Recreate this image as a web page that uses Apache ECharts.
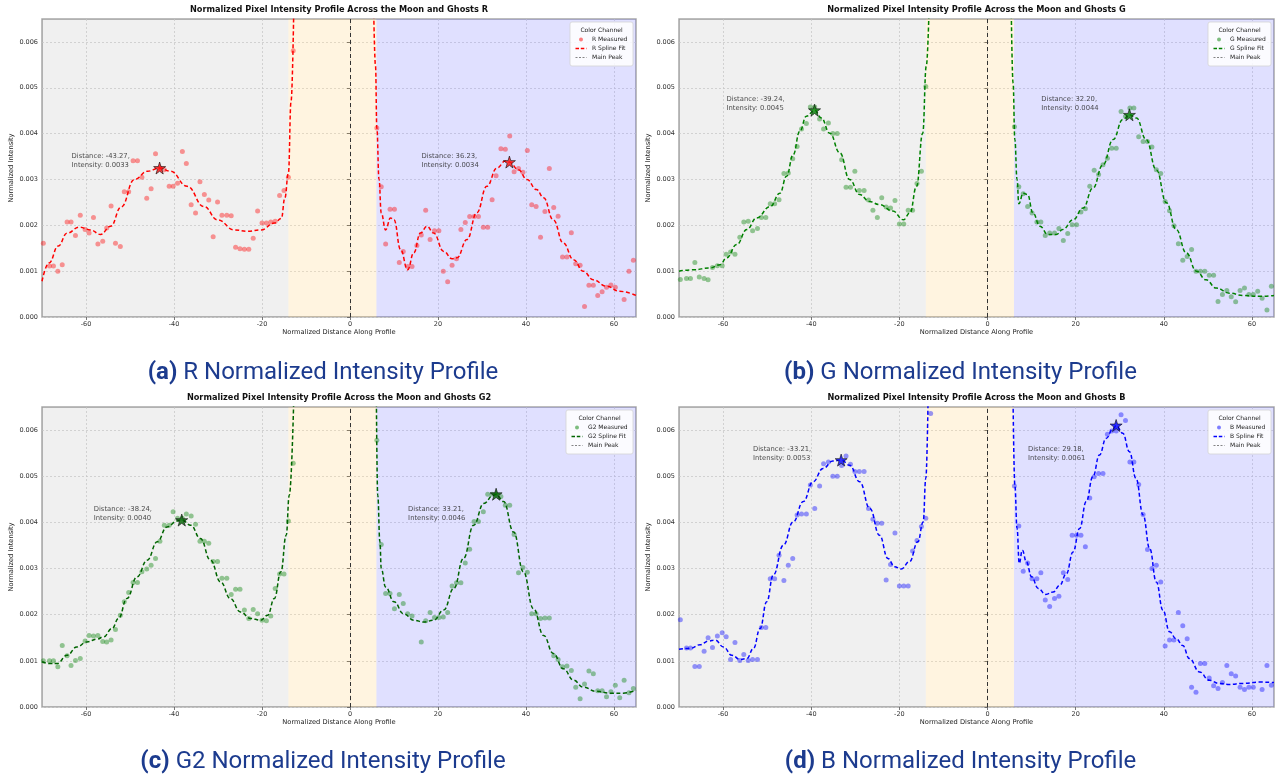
<!DOCTYPE html>
<html>
<head>
<meta charset="utf-8">
<title>Normalized Intensity Profiles</title>
<script src="https://cdn.jsdelivr.net/npm/echarts@6/dist/echarts.min.js"></script>
<style>
  html, body { margin: 0; padding: 0; background: #fff; }
  #main { width: 1283px; height: 776px; }
</style>
</head>
<body>
<div id="main"></div>
<script>
// sample positions along the profile (left ghost side / right ghost side)
var xLeft = [-69.7, -68.3, -67.4, -66.4, -65.4, -64.3, -63.4, -62.4, -61.3, -60.2,
  -59.3, -58.3, -57.3, -56.2, -55.3, -54.3, -53.3, -52.2, -51.3, -50.3,
  -49.3, -48.3, -47.3, -46.2, -45.2, -44.2, -43.2, -42.2, -41.1, -40.2,
  -39.2, -38.1, -37.2, -36.1, -35.1, -34.1, -33.1, -32.1, -31.1, -30.1,
  -29.1, -28.0, -27.0, -26.0, -25.0, -24.0, -23.0, -22.0, -21.0, -20.0,
  -19.0, -18.0, -17.0, -16.0, -15.0, -14.0, -12.9];
var xRight = [6.1, 7.1, 8.1, 9.1, 10.1, 11.2, 12.1, 13.1, 14.1, 15.2,
  16.2, 17.2, 18.2, 19.2, 20.2, 21.2, 22.2, 23.2, 24.2, 25.2,
  26.2, 27.2, 28.2, 29.2, 30.3, 31.3, 32.3, 33.2, 34.3, 35.3,
  36.3, 37.3, 38.3, 39.3, 40.3, 41.3, 42.3, 43.3, 44.3, 45.3,
  46.3, 47.3, 48.3, 49.3, 50.3, 51.3, 52.3, 53.3, 54.3, 55.3,
  56.3, 57.3, 58.3, 59.3, 60.3, 61.3, 62.3, 63.4, 64.4];

var xTicks = [-60, -40, -20, 0, 20, 40, 60];
var yTicks = [0, 0.001, 0.002, 0.003, 0.004, 0.005, 0.006];

// ---- R ----
var rLeft = [0.00161, 0.00111, 0.00111, 0.00100, 0.00114, 0.00207, 0.00207, 0.00178, 0.00222, 0.00191,
  0.00183, 0.00217, 0.00159, 0.00165, 0.00194, 0.00242, 0.00161, 0.00154, 0.00273, 0.00273,
  0.00341, 0.00341, 0.00305, 0.00259, 0.00280, 0.00356, 0.00325, 0.00321, 0.00285, 0.00285,
  0.00292, 0.00361, 0.00335, 0.00245, 0.00227, 0.00295, 0.00267, 0.00255, 0.00175, 0.00251,
  0.00222, 0.00222, 0.00221, 0.00152, 0.00149, 0.00148, 0.00148, 0.00172, 0.00231, 0.00205,
  0.00205, 0.00207, 0.00209, 0.00265, 0.00276, 0.00305, 0.00581];
var rRight = [0.00412, 0.00284, 0.00159, 0.00235, 0.00235, 0.00119, 0.00143, 0.00110, 0.00110, 0.00156,
  0.00179, 0.00233, 0.00169, 0.00188, 0.00188, 0.00100, 0.00077, 0.00113, 0.00127, 0.00191,
  0.00206, 0.00219, 0.00219, 0.00219, 0.00196, 0.00196, 0.00256, 0.00308, 0.00367, 0.00366,
  0.00395, 0.00317, 0.00324, 0.00316, 0.00363, 0.00245, 0.00241, 0.00174, 0.00230, 0.00324,
  0.00239, 0.00220, 0.00131, 0.00131, 0.00184, 0.00116, 0.00113, 0.00023, 0.00069, 0.00069,
  0.00047, 0.00055, 0.00065, 0.00070, 0.00065, null, 0.00038, 0.00100, 0.00124];
var rFitLeft = [[-70, 0.00078], [-68.4, 0.00118], [-66.3, 0.00155], [-64.3, 0.00183], [-61.5, 0.00196],
  [-59, 0.0019], [-56.7, 0.0018], [-54.4, 0.00198], [-52, 0.0024], [-49, 0.003], [-46, 0.00318],
  [-43.3, 0.00325], [-40.8, 0.00318], [-37, 0.00285], [-33.2, 0.00241], [-30.1, 0.00212],
  [-26.3, 0.0019], [-23.2, 0.00187], [-20.2, 0.0019], [-17.2, 0.00205], [-15.6, 0.00215],
  [-14.8, 0.0026], [-14, 0.00314], [-13.4, 0.0047], [-12.8, 0.0066]];
var rFitRight = [[5.4, 0.0066], [5.8, 0.00547], [6.1, 0.00412], [6.6, 0.003], [7.1, 0.00227],
  [8.1, 0.0019], [9.2, 0.00216], [10, 0.00212], [11.5, 0.00147], [13.1, 0.00103], [14.5, 0.0014],
  [16, 0.00183], [17.5, 0.00198], [19, 0.00183], [21.3, 0.00143], [23.2, 0.00127], [24.3, 0.00129],
  [26.6, 0.00169], [28.8, 0.00227], [31.1, 0.00285], [33.4, 0.00325], [35.3, 0.0034], [36.2, 0.00338],
  [38.3, 0.00321], [40.2, 0.003], [42.4, 0.00278], [44, 0.0026], [46.2, 0.00212], [48.5, 0.00161],
  [50.8, 0.00125], [53, 0.001], [55.3, 0.00081], [58.3, 0.00067], [61.3, 0.00056], [65, 0.00047]];
var rPeakX = [-43.27, 36.23];
var rPeakY = [0.00325, 0.00338];
var rNotes = ['Distance: -43.27,\nIntensity: 0.0033', 'Distance: 36.23,\nIntensity: 0.0034'];

// ---- G ----
var gLeft = [0.00082, 0.00084, 0.00084, 0.00119, 0.00087, 0.00084, 0.00081, 0.00108, 0.00112, 0.00112,
  0.00137, 0.00142, 0.00137, 0.00174, 0.00207, 0.00209, 0.00188, 0.00193, 0.00217, 0.00217,
  0.00247, 0.00247, 0.00256, 0.00313, 0.00314, 0.00345, 0.00372, 0.00410, 0.00422, 0.00458,
  0.00458, 0.00432, 0.00410, 0.00423, 0.00400, 0.00400, 0.00343, 0.00283, 0.00283, 0.00318,
  0.00276, 0.00276, 0.00255, 0.00233, 0.00217, 0.00260, 0.00240, 0.00238, 0.00254, 0.00203,
  0.00203, 0.00233, 0.00233, 0.00291, 0.00318, 0.00503, null];
var gRight = [0.00415, 0.00284, 0.00269, 0.00241, 0.00227, 0.00207, 0.00207, 0.00178, 0.00183, 0.00183,
  0.00193, 0.00167, 0.00182, 0.00201, 0.00201, 0.00229, 0.00236, 0.00285, 0.00320, 0.00311,
  0.00332, 0.00346, 0.00368, 0.00368, 0.00448, 0.00438, 0.00456, 0.00456, 0.00393, 0.00383,
  0.00383, 0.00371, 0.00321, 0.00313, 0.00252, 0.00232, 0.00199, 0.00160, 0.00124, 0.00132,
  0.00147, 0.00100, 0.00100, 0.00100, 0.00091, 0.00091, 0.00034, 0.00049, 0.00058, 0.00044,
  0.00033, 0.00058, 0.00063, 0.00049, 0.00049, 0.00056, 0.00041, 0.00015, 0.00067];
var gFitLeft = [[-70, 0.001], [-66.7, 0.00103], [-63, 0.00107], [-60.7, 0.00114], [-59.2, 0.00129],
  [-56.9, 0.00158], [-54.6, 0.00191], [-52.4, 0.00216], [-49.3, 0.00241], [-47.1, 0.0027],
  [-45.6, 0.00307], [-44.1, 0.00354], [-42.6, 0.00405], [-41.1, 0.00438], [-39.2, 0.00451],
  [-37.7, 0.00434], [-35.8, 0.00401], [-33.5, 0.00358], [-31.3, 0.003], [-29, 0.00267],
  [-26.8, 0.00252], [-24.5, 0.00245], [-21.5, 0.00231], [-19.1, 0.00212], [-17.6, 0.00227],
  [-16.1, 0.00285], [-14.7, 0.00401], [-13.9, 0.00547], [-13.3, 0.0066]];
var gFitRight = [[5.4, 0.0066], [5.8, 0.0051], [6.2, 0.00387], [6.7, 0.003], [7.1, 0.00247],
  [8.1, 0.0027], [9.1, 0.00267], [10.3, 0.00227], [11.9, 0.00198], [13.7, 0.0018], [15.6, 0.0018],
  [17.1, 0.00191], [19.4, 0.00212], [21.7, 0.00238], [23.9, 0.00281], [26.2, 0.00332], [28.5, 0.00387],
  [30.7, 0.00431], [32.2, 0.00441], [33.8, 0.00434], [36, 0.00387], [38.3, 0.00321], [40.6, 0.00249],
  [42.8, 0.00191], [45.1, 0.0014], [47.4, 0.001], [49.6, 0.00081], [51.9, 0.00063], [54.9, 0.00052],
  [57.9, 0.00047], [61.7, 0.00045], [65, 0.00047]];
var gPeakX = [-39.24, 32.20];
var gPeakY = [0.00451, 0.00441];
var gNotes = ['Distance: -39.24,\nIntensity: 0.0045', 'Distance: 32.20,\nIntensity: 0.0044'];

// ---- G2 ----
var g2Left = [0.00100, 0.00100, 0.00100, 0.00087, 0.00133, 0.00111, 0.00090, 0.00101, 0.00105, 0.00143,
  0.00155, 0.00154, 0.00155, 0.00142, 0.00141, 0.00145, 0.00168, 0.00199, 0.00228, 0.00248,
  0.00270, 0.00270, 0.00293, 0.00299, 0.00307, 0.00322, 0.00359, 0.00394, 0.00394, 0.00423,
  0.00409, 0.00409, 0.00418, 0.00414, 0.00396, 0.00359, 0.00359, 0.00355, 0.00315, 0.00315,
  0.00279, 0.00279, 0.00244, 0.00255, 0.00255, 0.00210, 0.00192, 0.00211, 0.00202, 0.00188,
  0.00187, 0.00197, 0.00257, 0.00288, 0.00288, 0.00403, 0.00528];
var g2Right = [0.00578, 0.00352, 0.00246, 0.00246, 0.00213, 0.00244, 0.00224, 0.00202, 0.00197, null,
  0.00141, 0.00187, 0.00205, 0.00194, 0.00194, 0.00195, 0.00205, 0.00262, 0.00269, 0.00269,
  0.00312, 0.00342, 0.00402, 0.00402, 0.00423, 0.00461, 0.00461, 0.00461, 0.00456, 0.00437,
  0.00437, 0.00374, 0.00291, 0.00302, 0.00292, 0.00202, 0.00202, 0.00192, 0.00193, 0.00193,
  0.00111, 0.00103, 0.00087, 0.00089, 0.00079, 0.00043, 0.00018, 0.00050, 0.00078, 0.00072,
  0.00035, 0.00035, 0.00022, 0.00033, 0.00047, 0.00020, 0.00058, 0.00031, 0.00040];
var g2FitLeft = [[-70, 0.00098], [-68.1, 0.00094], [-66.6, 0.00094], [-64.3, 0.00112], [-62.1, 0.0013],
  [-59.8, 0.00141], [-57.5, 0.00147], [-56, 0.00152], [-54.1, 0.0017], [-52.6, 0.00192],
  [-50.7, 0.00235], [-48.4, 0.00282], [-46.1, 0.00318], [-43.8, 0.00358], [-41.6, 0.0039],
  [-39.3, 0.00403], [-38.2, 0.00405], [-36.2, 0.00394], [-34, 0.00365], [-31.7, 0.00318],
  [-29.4, 0.00271], [-27.2, 0.00235], [-24.9, 0.00206], [-22.6, 0.00192], [-20.3, 0.00188],
  [-18.7, 0.00199], [-17.2, 0.00235], [-15.7, 0.00293], [-14.5, 0.00372], [-13.8, 0.00459],
  [-12.8, 0.0066]];
var g2FitRight = [[6.0, 0.0066], [6.3, 0.00459], [6.8, 0.00358], [7.1, 0.003], [8.1, 0.0026],
  [10, 0.00228], [12.2, 0.00202], [14.5, 0.00188], [16.8, 0.00184], [19, 0.00188], [21.3, 0.0021],
  [23.6, 0.00257], [25.8, 0.00322], [28.1, 0.00394], [30.4, 0.00441], [32.6, 0.00459], [33.2, 0.00461],
  [34.9, 0.00445], [37.2, 0.00379], [39.4, 0.00293], [41.7, 0.00213], [44, 0.00155], [46.2, 0.00116],
  [48.5, 0.00083], [50.8, 0.00058], [53, 0.00043], [56, 0.00034], [59.1, 0.0003], [62.1, 0.0003],
  [65, 0.00036]];
var g2PeakX = [-38.24, 33.21];
var g2PeakY = [0.00405, 0.00461];
var g2Notes = ['Distance: -38.24,\nIntensity: 0.0040', 'Distance: 33.21,\nIntensity: 0.0046'];

// ---- B ----
var bLeft = [0.00189, 0.00128, 0.00128, 0.00088, 0.00088, 0.00121, 0.00150, 0.00129, 0.00154, 0.00161,
  0.00152, 0.00103, 0.00140, 0.00101, 0.00114, 0.00101, 0.00103, 0.00103, 0.00172, 0.00172,
  0.00278, 0.00278, 0.00329, 0.00274, 0.00307, 0.00322, 0.00416, 0.00418, 0.00418, 0.00481,
  0.00430, 0.00479, 0.00527, 0.00531, 0.00500, 0.00500, 0.00523, 0.00544, 0.00526, 0.00510,
  0.00510, 0.00510, 0.00430, 0.00407, 0.00398, 0.00398, 0.00275, 0.00309, 0.00377, 0.00262,
  0.00262, 0.00262, 0.00338, 0.00361, 0.00391, 0.00409, 0.00636];
var bRight = [0.00479, 0.00392, 0.00294, 0.00312, 0.00278, 0.00278, 0.00291, 0.00232, 0.00218, 0.00235,
  0.00240, 0.00291, 0.00276, 0.00372, 0.00372, 0.00372, 0.00347, 0.00453, 0.00499, 0.00506,
  0.00506, 0.00591, 0.00598, 0.00598, 0.00633, 0.00621, 0.00531, 0.00531, 0.00482, 0.00417,
  0.00341, 0.00300, 0.00307, 0.00271, 0.00132, 0.00145, 0.00145, 0.00205, 0.00176, 0.00148,
  0.00043, 0.00032, 0.00094, 0.00094, 0.00063, 0.00046, 0.00040, 0.00053, 0.00090, 0.00072,
  0.00067, 0.00043, 0.00038, 0.00043, 0.00043, null, 0.00038, 0.00090, 0.00047];
var bFitLeft = [[-70, 0.00125], [-67.5, 0.00127], [-65.2, 0.00135], [-63.3, 0.00143], [-61.8, 0.00145],
  [-59.9, 0.0013], [-58, 0.00112], [-56.1, 0.00103], [-54.6, 0.00105], [-53.1, 0.00127],
  [-51.6, 0.0017], [-50.1, 0.00228], [-48.6, 0.00286], [-46.3, 0.00351], [-44.1, 0.00401],
  [-41.8, 0.00445], [-39.6, 0.00488], [-37.3, 0.00517], [-35.1, 0.00533], [-33.2, 0.00535],
  [-31.3, 0.00524], [-29, 0.00488], [-26.7, 0.0043], [-24.5, 0.00372], [-22.6, 0.00322],
  [-21.1, 0.00304], [-19.6, 0.00299], [-17.7, 0.00315], [-15.8, 0.00358], [-14.6, 0.00401],
  [-14, 0.00495], [-13.5, 0.0066]];
var bFitRight = [[5.8, 0.0066], [6.2, 0.00481], [6.7, 0.00387], [7.2, 0.00311], [7.9, 0.0034],
  [8.8, 0.00315], [10, 0.00282], [11.5, 0.00257], [13.2, 0.00244], [14.9, 0.00249], [16.4, 0.00264],
  [17.9, 0.00289], [19.4, 0.00336], [20.9, 0.00387], [22.4, 0.00445], [23.9, 0.00499], [25.4, 0.00546],
  [26.9, 0.00582], [28.5, 0.00603], [29.2, 0.0061], [30.7, 0.00593], [32.2, 0.00553], [33.7, 0.00495],
  [35.3, 0.00416], [36.8, 0.00343], [38.3, 0.00271], [39.8, 0.0021], [41.3, 0.00163], [42.8, 0.00148],
  [44.3, 0.00133], [45.8, 0.00105], [48.1, 0.00076], [50.3, 0.00058], [52.6, 0.00051], [54.9, 0.00049],
  [57.9, 0.00051], [61.7, 0.00054], [65, 0.00053]];
var bPeakX = [-33.21, 29.18];
var bPeakY = [0.00535, 0.0061];
var bNotes = ['Distance: -33.21,\nIntensity: 0.0053', 'Distance: 29.18,\nIntensity: 0.0061'];

// height (data units) of the centre of the peak notes in each panel
var noteY = [0.0034, 0.00466, 0.00419, 0.00549];

// shaded regions: ghost left / moon / ghost right
var regions = [[-70, -14], [-14, 6], [6, 65]];

var panels = [
  { ch: 'R', tag: '(a)', left: rLeft, right: rRight, fitL: rFitLeft, fitR: rFitRight,
    px: rPeakX, py: rPeakY, notes: rNotes, dot: 'rgba(255,0,0,0.5)', line: '#ff0000', star: '#ff1010' },
  { ch: 'G', tag: '(b)', left: gLeft, right: gRight, fitL: gFitLeft, fitR: gFitRight,
    px: gPeakX, py: gPeakY, notes: gNotes, dot: 'rgba(0,128,0,0.5)', line: '#008000', star: '#008000' },
  { ch: 'G2', tag: '(c)', left: g2Left, right: g2Right, fitL: g2FitLeft, fitR: g2FitRight,
    px: g2PeakX, py: g2PeakY, notes: g2Notes, dot: 'rgba(0,128,0,0.5)', line: '#006400', star: '#006400' },
  { ch: 'B', tag: '(d)', left: bLeft, right: bRight, fitL: bFitLeft, fitR: bFitRight,
    px: bPeakX, py: bPeakY, notes: bNotes, dot: 'rgba(0,0,255,0.5)', line: '#0000ff', star: '#0000ff' }
];

var layout = [
  { left: 42, top: 19, width: 594, height: 298, cap: 372 },
  { left: 679, top: 19, width: 595, height: 298, cap: 372 },
  { left: 42, top: 407, width: 594, height: 300, cap: 761 },
  { left: 679, top: 407, width: 595, height: 300, cap: 761 }
];

var FONT = '"DejaVu Sans", sans-serif';
var STAR = 'path://M50,0 L61,35 L98,35 L68,57 L79,91 L50,70 L21,91 L32,57 L2,35 L39,35 Z';

function pairUp(xs, ys) {
  var out = [];
  for (var i = 0; i < xs.length; i++) {
    if (ys[i] != null) out.push([xs[i], ys[i]]);
  }
  return out;
}

function legendGraphic(g, p) {
  var w = p.ch.length > 1 ? 67 : 63;
  var bx = g.left + g.width - 3 - w;
  var by = g.top + 3;
  var font = '6px ' + FONT;
  var txt = function (s, x, y, align) {
    return { type: 'text', x: x, y: y, z: 101, silent: true,
      style: { text: s, font: font, fill: '#222', align: align, verticalAlign: 'middle',
        textAlign: align, textVerticalAlign: 'middle' } };
  };
  var seg = function (y, color, dash, lw) {
    return { type: 'line', z: 101, silent: true,
      shape: { x1: bx + 5.5, y1: y, x2: bx + 16.5, y2: y },
      style: { stroke: color, lineWidth: lw, lineDash: dash } };
  };
  return [
    { type: 'rect', z: 100, silent: true,
      shape: { x: bx, y: by, width: w, height: 44, r: 2 },
      style: { fill: 'rgba(255,255,255,0.85)', stroke: '#d4d4d4', lineWidth: 0.8 } },
    txt('Color Channel', bx + w / 2, by + 8.7, 'center'),
    { type: 'circle', z: 101, silent: true, shape: { cx: bx + 11, cy: by + 17.5, r: 2 },
      style: { fill: p.dot } },
    txt(p.ch + ' Measured', bx + 22, by + 17.5, 'left'),
    seg(by + 26.5, p.line, [3.5, 1.8], 1.4),
    txt(p.ch + ' Spline Fit', bx + 22, by + 26.5, 'left'),
    seg(by + 35.5, '#666', [2, 1.5], 0.8),
    txt('Main Peak', bx + 22, by + 35.5, 'left')
  ];
}

var grids = [], xAxes = [], yAxes = [], series = [], titles = [], graphics = [];

panels.forEach(function (p, i) {
  var g = layout[i];
  grids.push({ left: g.left, top: g.top, width: g.width, height: g.height,
    show: true, borderColor: '#a8a8a8', borderWidth: 1.5, backgroundColor: 'transparent' });

  xAxes.push({
    type: 'value', gridIndex: i, min: -70, max: 65,
    name: 'Normalized Distance Along Profile', nameLocation: 'middle', nameGap: 12,
    nameTextStyle: { fontFamily: FONT, fontSize: 6.7, color: '#222' },
    axisLine: { show: false },
    axisTick: { show: true, length: 3, customValues: xTicks, lineStyle: { color: '#555', width: 0.8 } },
    axisLabel: { customValues: xTicks, fontFamily: FONT, fontSize: 6.5, color: '#333', margin: 4 },
    splitLine: { show: true, lineStyle: { color: '#d2d2d2', type: [2, 2], width: 0.7 } }
  });
  yAxes.push({
    type: 'value', gridIndex: i, min: 0, max: 0.0065,
    name: 'Normalized Intensity', nameLocation: 'middle', nameGap: 27,
    nameTextStyle: { fontFamily: FONT, fontSize: 6.7, color: '#222' },
    axisLine: { show: false },
    axisTick: { show: true, length: 3, customValues: yTicks, lineStyle: { color: '#555', width: 0.8 } },
    axisLabel: { customValues: yTicks, fontFamily: FONT, fontSize: 6.5, color: '#333', margin: 4,
      formatter: function (v) { return v.toFixed(3); } },
    splitLine: { show: true, lineStyle: { color: '#d2d2d2', type: [2, 2], width: 0.7 } }
  });

  // measured points, with the shaded regions and the main-peak line
  series.push({
    name: p.ch + ' Measured', type: 'scatter', xAxisIndex: i, yAxisIndex: i,
    data: pairUp(xLeft, p.left).concat(pairUp(xRight, p.right)),
    symbolSize: 5, itemStyle: { color: p.dot }, z: 3, silent: true,
    markArea: {
      silent: true,
      data: [
        [{ xAxis: regions[0][0], itemStyle: { color: 'rgba(0,0,0,0.06)' } }, { xAxis: regions[0][1] }],
        [{ xAxis: regions[1][0], itemStyle: { color: 'rgba(255,165,0,0.12)' } }, { xAxis: regions[1][1] }],
        [{ xAxis: regions[2][0], itemStyle: { color: 'rgba(0,0,255,0.12)' } }, { xAxis: regions[2][1] }]
      ]
    },
    markLine: {
      silent: true, symbol: 'none', label: { show: false },
      lineStyle: { color: '#333', type: [4, 3], width: 1 },
      data: [{ xAxis: 0 }]
    }
  });

  [p.fitL, p.fitR].forEach(function (fit) {
    series.push({
      name: p.ch + ' Spline Fit', type: 'line', xAxisIndex: i, yAxisIndex: i,
      data: fit, smooth: 0.45, smoothMonotone: 'x', showSymbol: false, z: 4, silent: true,
      lineStyle: { color: p.line, width: 1.5, type: [4, 2.5] }
    });
  });

  series.push({
    name: p.ch + ' Peaks', type: 'scatter', xAxisIndex: i, yAxisIndex: i,
    data: [[p.px[0], p.py[0]], [p.px[1], p.py[1]]],
    symbol: STAR, symbolSize: 12, z: 6, silent: true,
    itemStyle: { color: p.star, borderColor: '#111', borderWidth: 0.8 }
  });

  series.push({
    name: p.ch + ' Notes', type: 'scatter', xAxisIndex: i, yAxisIndex: i,
    data: [[p.px[0] - 20, noteY[i]], [p.px[1] - 20, noteY[i]]],
    symbolSize: 0, z: 7, silent: true,
    label: {
      show: true, position: [0, 0], distance: 0, align: 'left', verticalAlign: 'middle',
      fontFamily: FONT, fontSize: 6.8, lineHeight: 9, color: '#222',
      formatter: function (d) { return p.notes[d.dataIndex]; }
    }
  });

  titles.push({
    text: 'Normalized Pixel Intensity Profile Across the Moon and Ghosts ' + p.ch,
    left: g.left + g.width / 2, top: g.top - 13, textAlign: 'center', padding: 0,
    textStyle: { fontFamily: FONT, fontSize: 8.2, fontWeight: 'bold', color: '#111' }
  });
  titles.push({
    text: '{b|' + p.tag + '} ' + p.ch + ' Normalized Intensity Profile',
    left: g.left + g.width / 2 - 16, top: g.cap - 11, textAlign: 'center', padding: 0,
    textStyle: {
      fontFamily: 'Roboto', fontSize: 24, fontWeight: 'normal', color: '#1c3b8e',
      rich: { b: { fontFamily: 'Roboto', fontSize: 24, fontWeight: 'bold', color: '#1c3b8e' } }
    }
  });

  graphics = graphics.concat(legendGraphic(g, p));
});

var chart = echarts.init(document.getElementById('main'), null, { renderer: 'canvas' });
chart.setOption({
  animation: false,
  backgroundColor: '#ffffff',
  title: titles,
  grid: grids,
  xAxis: xAxes,
  yAxis: yAxes,
  series: series,
  graphic: graphics
});
</script>
</body>
</html>
